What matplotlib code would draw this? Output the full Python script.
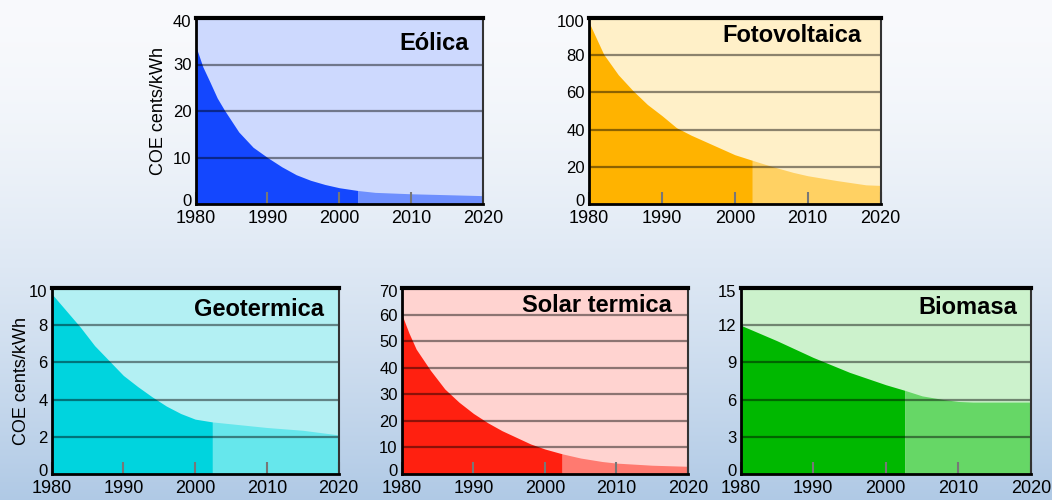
import matplotlib
matplotlib.use("Agg")
import matplotlib.pyplot as plt
import matplotlib.transforms as mtransforms
import numpy as np

plt.rcParams['font.family'] = ['Liberation Sans', 'DejaVu Sans']

# cost of energy, cents/kWh; the split year separates history from projection
eolica_years = [1980, 1981, 1982, 1983, 1984, 1986, 1988, 1990, 1992, 1994,
                1996, 1998, 2000, 2002.6, 2005, 2010, 2015, 2020]
eolica_cost = [34, 29.5, 26.2, 22.8, 20.2, 15.5, 12.2, 10, 8, 6.3,
               5.1, 4.2, 3.5, 2.9, 2.5, 2.2, 2.0, 1.8]

foto_years = [1980, 1982, 1984, 1986, 1988, 1990, 1992, 1994, 1996, 1998, 2000,
              2002.4, 2005, 2008, 2010, 2014, 2018, 2020]
foto_cost = [97.5, 80.5, 69.5, 61, 53.5, 47.5, 41, 37, 33.5, 30, 26.5,
             23.5, 20.3, 17, 15.2, 12.6, 10.3, 10]

geo_years = [1980, 1982, 1984, 1986, 1988, 1990, 1992, 1994, 1996, 1998, 2000,
             2002.4, 2010, 2015, 2020]
geo_cost = [9.7, 8.8, 7.9, 6.9, 6.1, 5.3, 4.7, 4.15, 3.65, 3.25, 2.95,
            2.8, 2.5, 2.35, 2.1]

solar_years = [1980, 1981, 1982, 1983, 1984, 1986, 1988, 1990, 1992, 1994, 1996,
               1998, 2000, 2002.4, 2005, 2008, 2010, 2015, 2020]
solar_cost = [60, 53, 47, 43, 39, 32, 27, 22.8, 19.3, 16.3, 13.8,
              11.3, 9.4, 7.6, 6, 4.7, 4.1, 3.3, 2.9]

bio_years = [1980, 1985, 1990, 1995, 2000, 2002.6, 2005, 2008, 2010, 2012, 2020]
bio_cost = [12, 10.75, 9.4, 8.2, 7.2, 6.75, 6.3, 6.0, 5.85, 5.8, 5.8]

split_years = [2002.6, 2002.4, 2002.4, 2002.4, 2002.6]
titles = ["Eólica", "Fotovoltaica", "Geotermica", "Solar termica", "Biomasa"]
y_ticks = [
    [0, 10, 20, 30, 40],
    [0, 20, 40, 60, 80, 100],
    [0, 2, 4, 6, 8, 10],
    [0, 10, 20, 30, 40, 50, 60, 70],
    [0, 3, 6, 9, 12, 15],
]
x_ticks = [1980, 1990, 2000, 2010, 2020]

# (background, history, projection)
palettes = [
    ("#cdd9fe", "#1447fe", "#6e8ffe"),
    ("#fff0c8", "#ffb300", "#ffd163"),
    ("#b3f0f3", "#00d4de", "#66e7ec"),
    ("#ffd3d0", "#ff2010", "#ff7a70"),
    ("#ccf2cc", "#00b800", "#66d766"),
]

# axes rectangles in figure fractions
boxes = [
    [0.186, 0.592, 0.273, 0.372],
    [0.560, 0.592, 0.277, 0.372],
    [0.049, 0.052, 0.273, 0.372],
    [0.382, 0.052, 0.272, 0.372],
    [0.704, 0.052, 0.276, 0.372],
]
# title offsets from the top-right corner, in pixels
title_offsets = [(-14, -25), (-19, -17), (-15, -21), (-16, -17), (-14, -19)]
# y label padding, None where the panel has no label
ylabel_pads = [4, None, -1, None, None]

series = [
    (eolica_years, eolica_cost),
    (foto_years, foto_cost),
    (geo_years, geo_cost),
    (solar_years, solar_cost),
    (bio_years, bio_cost),
]

fig = plt.figure(figsize=(10.52, 5), dpi=100)

# soft vertical gradient behind everything
bg = fig.add_axes([0, 0, 1, 1], zorder=-10)
t = np.linspace(0, 1, 256) ** 1.6
top = np.array([0.975, 0.98, 0.99])
bottom = np.array([0.69, 0.79, 0.90])
grad = top[None, :] * (1 - t[:, None]) + bottom[None, :] * t[:, None]
bg.imshow(grad[:, None, :], aspect='auto', extent=[0, 1, 0, 1])
bg.axis('off')

for i in range(5):
    ax = fig.add_axes(boxes[i])
    years, cost = series[i]
    years = np.array(years, dtype=float)
    cost = np.array(cost, dtype=float)
    back, dark, light = palettes[i]
    ax.set_facecolor(back)

    k = int(np.argmin(np.abs(years - split_years[i])))
    ax.fill_between(years[:k + 1], 0, cost[:k + 1], color=dark, lw=0, zorder=1)
    ax.fill_between(years[k:], 0, cost[k:], color=light, lw=0, zorder=1)

    ax.set_xlim(1980, 2020)
    ax.set_ylim(y_ticks[i][0], y_ticks[i][-1])
    ax.set_xticks(x_ticks)
    ax.set_yticks(y_ticks[i])
    for v in y_ticks[i][1:-1]:
        ax.axhline(v, color='black', alpha=0.45, lw=1.6, zorder=2)

    ax.tick_params(axis='x', direction='in', length=9, width=1.5, color='#777777',
                   labelsize=13, pad=4)
    ax.tick_params(axis='y', length=0, labelsize=12, pad=3)

    # keep the end labels inside the frame height
    yt = ax.yaxis.get_major_ticks()
    yt[0].label1.set_transform(yt[0].label1.get_transform() +
                               mtransforms.ScaledTranslation(0, 4 / 100, fig.dpi_scale_trans))
    yt[-1].label1.set_transform(yt[-1].label1.get_transform() +
                                mtransforms.ScaledTranslation(0, -3 / 100, fig.dpi_scale_trans))

    for side in ['left', 'bottom']:
        ax.spines[side].set_linewidth(2)
        ax.spines[side].set_color('black')
    ax.spines['top'].set_linewidth(3)
    ax.spines['top'].set_color('black')
    ax.spines['right'].set_linewidth(1.5)
    ax.spines['right'].set_color('#333333')
    for s in ax.spines.values():
        s.set_zorder(5)

    ax.annotate(titles[i], xy=(1, 1), xycoords='axes fraction',
                xytext=title_offsets[i], textcoords='offset pixels',
                ha='right', va='center', fontsize=17, fontweight='bold', zorder=6)

    if ylabel_pads[i] is not None:
        ax.set_ylabel("COE cents/kWh", fontsize=13, labelpad=ylabel_pads[i])

fig.savefig("out.png", dpi=100)
